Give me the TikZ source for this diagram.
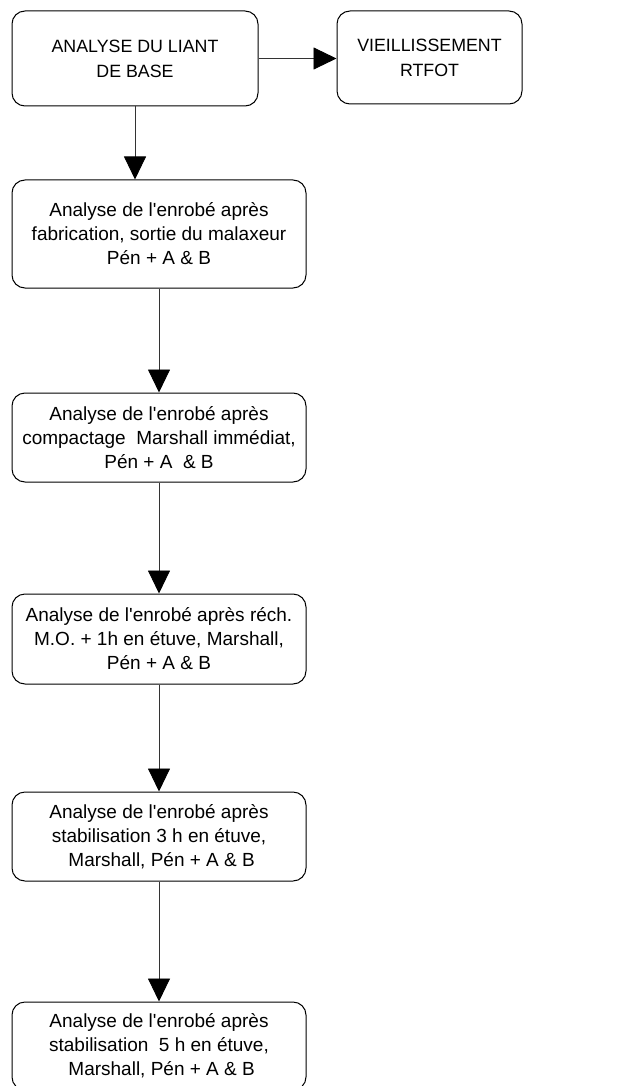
\documentclass[tikz,border=0pt]{standalone}
\usepackage{fontspec}
\newfontfamily\libsans{Liberation Sans}
\usetikzlibrary{arrows.meta}
\begin{document}
\begin{tikzpicture}[x=1pt,y=-1pt,
  box/.style={draw=black, line width=1pt, rounded corners=13pt, align=center, inner sep=0pt, anchor=center},
  topbox/.style={box, font=\libsans\fontsize{17.8}{25}\selectfont},
  lowbox/.style={box, font=\libsans\fontsize{19}{24}\selectfont, minimum width=294pt},
  conn/.style={draw=black!80, line width=0.9pt, -{Triangle[length=23pt,width=22pt,color=black]}}]
\useasboundingbox (0,0) rectangle (624,1086);
\node[topbox, minimum width=246pt, minimum height=95pt] (b1) at (135,58.5) {ANALYSE DU LIANT\\DE BASE};
\node[topbox, minimum width=185pt, minimum height=93pt] (b2) at (429.5,57.5) {VIEILLISSEMENT\\RTFOT};
\node[lowbox, minimum height=108pt] (b3) at (159,234) {Analyse de l'enrobé après\\fabrication, sortie du malaxeur\\Pén + A \& B};
\node[lowbox, minimum height=89pt] (b4) at (159,437.5) {Analyse de l'enrobé après\\compactage\ \ Marshall immédiat,\\Pén + A\ \ \& B};
\node[lowbox, minimum height=90pt] (b5) at (159,639) {Analyse de l'enrobé après réch.\\M.O. + 1h en étuve, Marshall,\\Pén + A \& B};
\node[lowbox, minimum height=89pt] (b6) at (159,836.5) {Analyse de l'enrobé après\\stabilisation 3 h en étuve,\\\ Marshall, Pén + A \& B};
\node[lowbox, minimum height=88pt] (b7) at (159,1046) {Analyse de l'enrobé après\\stabilisation\ \ 5 h en étuve,\\\ Marshall, Pén + A \& B};
\draw[conn] (b1.east) -- (b1.east -| b2.west);
\draw[conn] (b1.south) -- (b1.south |- b3.north);
\draw[conn] (b3.south) -- (b4.north);
\draw[conn] (b4.south) -- (b5.north);
\draw[conn] (b5.south) -- (b6.north);
\draw[conn] (b6.south) -- (b7.north);
\end{tikzpicture}
\end{document}
